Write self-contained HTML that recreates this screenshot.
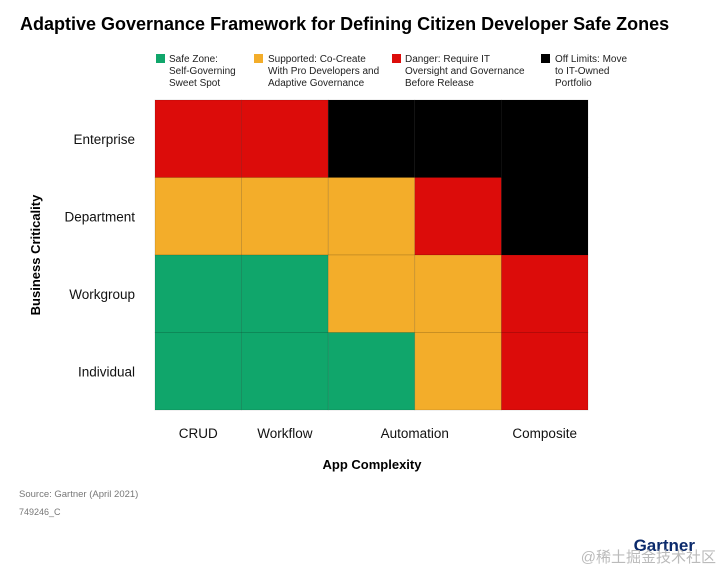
<!DOCTYPE html>
<html><head><meta charset="utf-8"><style>
body{margin:0;background:#fff;width:720px;height:570px;overflow:hidden;font-family:"Liberation Sans","Noto Sans CJK SC",sans-serif}
</style></head><body>
<svg width="720" height="570" viewBox="0 0 720 570" xmlns="http://www.w3.org/2000/svg" font-family="Liberation Sans, Noto Sans CJK SC, sans-serif">
<text x="20" y="30" font-size="18" font-weight="bold" fill="#000">Adaptive Governance Framework for Defining Citizen Developer Safe Zones</text>
<g font-size="10" fill="#222">
<g><rect x="156" y="54" width="9" height="9" fill="#10a66b"/><text x="169" y="62">Safe Zone:</text><text x="169" y="74">Self-Governing</text><text x="169" y="86">Sweet Spot</text></g>
<g><rect x="254" y="54" width="9" height="9" fill="#f3ad2a"/><text x="268" y="62">Supported: Co-Create</text><text x="268" y="74">With Pro Developers and</text><text x="268" y="86">Adaptive Governance</text></g>
<g><rect x="392" y="54" width="9" height="9" fill="#dc0c0a"/><text x="405" y="62">Danger: Require IT</text><text x="405" y="74">Oversight and Governance</text><text x="405" y="86">Before Release</text></g>
<g><rect x="541" y="54" width="9" height="9" fill="#000"/><text x="555" y="62">Off Limits: Move</text><text x="555" y="74">to IT-Owned</text><text x="555" y="86">Portfolio</text></g>
</g>
<g id="grid"></g>
<g id="labels" font-size="13.5" fill="#111"></g>
<text x="372" y="469" font-size="13" font-weight="bold" text-anchor="middle" fill="#000">App Complexity</text>
<text transform="translate(40,255) rotate(-90)" font-size="13" font-weight="bold" text-anchor="middle" fill="#000">Business Criticality</text>
<text x="19" y="497" font-size="9.5" fill="#777">Source: Gartner (April 2021)</text>
<text x="19" y="515" font-size="9" fill="#777">749246_C</text>
<text x="695" y="551" font-size="17" font-weight="bold" text-anchor="end" fill="#0b2a6b">Gartner</text>
<text x="716" y="562" font-size="15" text-anchor="end" fill="#bbb">@稀土掘金技术社区</text>
</svg>
<script>
const rows=["Enterprise","Department","Workgroup","Individual"];
const cols=["c1","c2","c3","c4","c5"];
const cells=[
 ["danger","danger","off","off","off"],
 ["supported","supported","supported","danger","off"],
 ["safe","safe","supported","supported","danger"],
 ["safe","safe","safe","supported","danger"]];
const xLabels=["CRUD","Workflow","Automation","Composite"];
const xLabelPos=[0.5,1.5,3,4.5];
const colors={safe:"#10a66b",supported:"#f3ad2a",danger:"#dc0c0a",off:"#000"};
const X0=155,X1=588,Y0=100,Y1=410;
const cw=(X1-X0)/cols.length,rh=(Y1-Y0)/rows.length;
const xs=i=>X0+i*cw, ys=j=>Y0+j*rh;
const NS="http://www.w3.org/2000/svg";
const g=document.getElementById('grid'),L=document.getElementById('labels');
cells.forEach((r,j)=>r.forEach((c,i)=>{
 const e=document.createElementNS(NS,'rect');
 e.setAttribute('x',xs(i));e.setAttribute('y',ys(j));
 e.setAttribute('width',cw);e.setAttribute('height',rh);
 e.setAttribute('fill',colors[c]);e.setAttribute('stroke','rgba(0,0,0,0.2)');e.setAttribute('stroke-width','0.6');
 
 
 g.appendChild(e);
}));
rows.forEach((r,j)=>{
 const t=document.createElementNS(NS,'text');
 t.setAttribute('x',135);t.setAttribute('y',ys(j)+rh/2+5);t.setAttribute('text-anchor','end');
 t.textContent=r;
 
 
 L.appendChild(t);
});
xLabels.forEach((r,k)=>{
 const t=document.createElementNS(NS,'text');
 t.setAttribute('x',xs(xLabelPos[k]));t.setAttribute('y',438);t.setAttribute('text-anchor','middle');
 t.textContent=r;
 
 
 L.appendChild(t);
});
</script>
</body></html>
